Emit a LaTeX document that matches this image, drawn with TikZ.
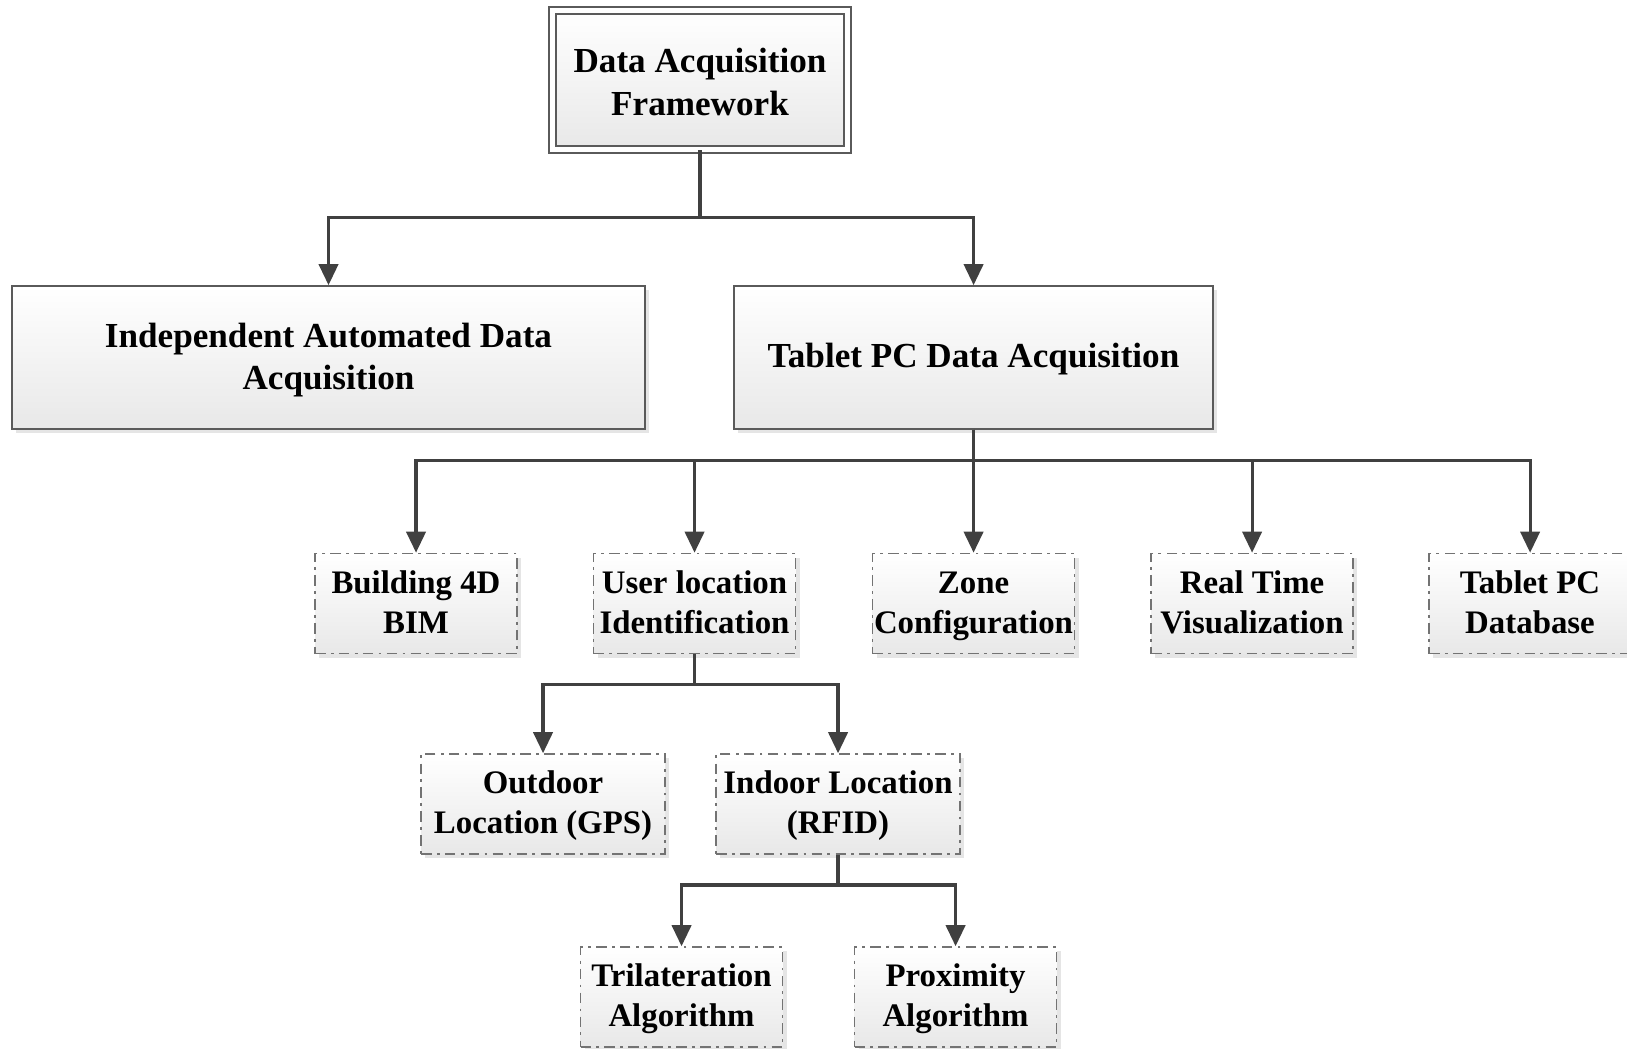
\documentclass[tikz,border=0pt]{standalone}
\usepackage{fontspec}
\setmainfont{Liberation Serif}
\usetikzlibrary{arrows.meta,shadows}
\definecolor{linegray}{RGB}{64,64,64}
\definecolor{boxgray}{RGB}{90,90,90}

\begin{document}
\begin{tikzpicture}[scale=0.1]
		\tikzstyle{every node}+=[inner sep=0pt, align=center, font=\bfseries\fontsize{10}{12}\selectfont, text depth=3.6pt, text height=21.9pt]
		\tikzstyle{mainbox}=[draw=boxgray, line width=0.5pt, top color=white, bottom color=black!9, drop shadow={shadow xshift=1.2pt, shadow yshift=-1.2pt, fill=black!20}]
		\tikzstyle{subbox}=[mainbox, draw=black!55, dash pattern=on 3pt off 1.5pt on 0.8pt off 1.5pt, minimum width=20.2mm, minimum height=10mm, font=\bfseries\fontsize{9.35}{11.4}\selectfont, text depth=3.4pt, text height=20.3pt]
		\tikzstyle{link}=[draw=linegray, line width=0.9pt, -{Triangle[width=5.5pt,length=6pt]}]
		\useasboundingbox (0,0) rectangle (162.7,-104.8);
		% boxes
		\draw (70,-8) node [mainbox, double=white, double distance=1.4pt, minimum width=29.5mm, minimum height=13.9mm, text height=23.6pt] (frame) {Data Acquisition\\Framework};
		\draw (32.85,-35.75) node [mainbox, minimum width=63.3mm, minimum height=14.3mm] (indep) {Independent Automated Data\\Acquisition};
		\draw (97.35,-35.75) node [mainbox, minimum width=47.9mm, minimum height=14.3mm, text height=9.3pt] (tablet) {Tablet PC Data Acquisition};
		\draw (41.6,-60.35) node [subbox] (bim) {Building 4D\\BIM};
		\draw (69.45,-60.35) node [subbox] (user) {User location\\Identification};
		\draw (97.35,-60.35) node [subbox] (zone) {Zone\\Configuration};
		\draw (125.2,-60.35) node [subbox] (visual) {Real Time\\Visualization};
		\draw (153,-60.35) node [subbox] (database) {Tablet PC\\Database};
		\draw (54.3,-80.4) node [subbox, minimum width=24.4mm] (outdoor) {Outdoor\\Location (GPS)};
		\draw (83.8,-80.4) node [subbox, minimum width=24.4mm] (indoor) {Indoor Location\\(RFID)};
		\draw (68.15,-99.7) node [subbox] (trilat) {Trilateration\\Algorithm};
		\draw (95.55,-99.7) node [subbox] (proxim) {Proximity\\Algorithm};
		% links
		\draw [link] (frame.south) -- ++(0,-6.7) -| (indep.north);
		\draw [link] (frame.south) -- ++(0,-6.7) -| (tablet.north);
		\foreach \child in {bim,user,zone,visual,database}
			\draw [link] (tablet.south) -- ++(0,-3.1) -| (\child.north);
		\foreach \child in {outdoor,indoor}
			\draw [link] (user.south) -- ++(0,-3) -| (\child.north);
		\foreach \child in {trilat,proxim}
			\draw [link] (indoor.south) -- ++(0,-3) -| (\child.north);
	\end{tikzpicture}
\end{document}
